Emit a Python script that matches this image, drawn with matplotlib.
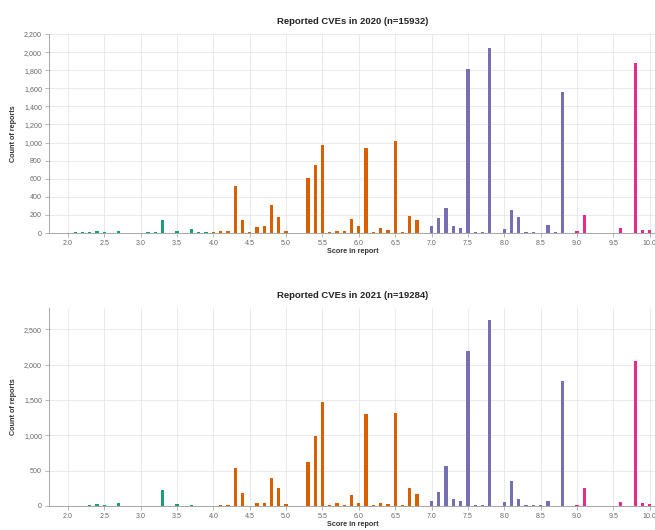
import matplotlib
matplotlib.use("Agg")
import matplotlib.pyplot as plt
from matplotlib.ticker import FuncFormatter

plt.rcParams['font.family'] = ['Liberation Sans', 'DejaVu Sans']

scores = [1.8, 1.9, 2.0, 2.1, 2.2, 2.3, 2.4, 2.5, 2.6, 2.7, 2.8, 2.9,
          3.0, 3.1, 3.2, 3.3, 3.4, 3.5, 3.6, 3.7, 3.8, 3.9,
          4.0, 4.1, 4.2, 4.3, 4.4, 4.5, 4.6, 4.7, 4.8, 4.9,
          5.0, 5.1, 5.2, 5.3, 5.4, 5.5, 5.6, 5.7, 5.8, 5.9,
          6.0, 6.1, 6.2, 6.3, 6.4, 6.5, 6.6, 6.7, 6.8, 6.9,
          7.0, 7.1, 7.2, 7.3, 7.4, 7.5, 7.6, 7.7, 7.8, 7.9,
          8.0, 8.1, 8.2, 8.3, 8.4, 8.5, 8.6, 8.7, 8.8, 8.9,
          9.0, 9.1, 9.2, 9.3, 9.4, 9.5, 9.6, 9.7, 9.8, 9.9, 10.0]

counts_2020 = [0, 2, 3, 6, 8, 10, 22, 8, 5, 25, 3, 3,
               2, 8, 6, 145, 3, 22, 5, 40, 10, 8,
               6, 20, 20, 515, 148, 8, 63, 80, 315, 175,
               22, 3, 3, 605, 755, 972, 15, 18, 18, 158,
               72, 945, 8, 58, 28, 1018, 8, 192, 145, 2,
               72, 168, 280, 72, 52, 1815, 15, 15, 2045, 2,
               40, 254, 173, 12, 10, 3, 90, 8, 1555, 2,
               22, 195, 3, 3, 2, 3, 52, 2, 1875, 28, 28]

counts_2021 = [0, 2, 3, 3, 5, 8, 23, 10, 5, 37, 3, 3,
               2, 5, 5, 233, 3, 23, 5, 14, 6, 5,
               5, 15, 15, 541, 180, 5, 47, 37, 401, 261,
               23, 5, 5, 621, 994, 1475, 10, 45, 10, 159,
               47, 1298, 10, 47, 33, 1312, 10, 261, 168, 3,
               75, 200, 560, 98, 70, 2185, 10, 10, 2628, 3,
               58, 360, 93, 10, 10, 12, 65, 3, 1774, 3,
               19, 257, 3, 3, 2, 3, 60, 2, 2045, 37, 33]

titles = ["Reported CVEs in 2020 (n=15932)", "Reported CVEs in 2021 (n=19284)"]
x_ticks = [2.0, 2.5, 3.0, 3.5, 4.0, 4.5, 5.0, 5.5, 6.0, 6.5, 7.0, 7.5, 8.0, 8.5, 9.0, 9.5, 10.0]
y_ticks_2020 = [0, 200, 400, 600, 800, 1000, 1200, 1400, 1600, 1800, 2000, 2200]
y_ticks_2021 = [0, 500, 1000, 1500, 2000, 2500]

sev_colors = {"low": "#1b9e77", "medium": "#d95f02", "high": "#7570b3", "critical": "#e7298a"}


def color_for(s):
    if s < 4.0:
        return sev_colors["low"]
    if s < 7.0:
        return sev_colors["medium"]
    if s < 9.0:
        return sev_colors["high"]
    return sev_colors["critical"]


W, H = 655, 530
fig = plt.figure(figsize=(W / 100, H / 100), dpi=100)

# pixel boxes: left, top, right, bottom
boxes = [(49, 34, 657, 233), (49, 308, 657, 506)]
ylims = [2200, 2800]
yticks_all = [y_ticks_2020, y_ticks_2021]
data_all = [counts_2020, counts_2021]

for i in range(2):
    l, t, r, b = boxes[i]
    ax = fig.add_axes([l / W, (H - b) / H, (r - l) / W, (b - t) / H])
    cols = [color_for(s) for s in scores]
    ax.bar(scores, data_all[i], width=0.045, color=cols, zorder=3)
    ax.set_xlim(1.74, 10.1)
    ax.set_ylim(0, ylims[i])
    ax.set_xticks(x_ticks)
    ax.set_xticklabels([f"{v:.1f}" for v in x_ticks])
    ax.set_yticks(yticks_all[i])
    ax.yaxis.set_major_formatter(FuncFormatter(lambda v, p: f"{int(v):,}"))
    ax.grid(True, color="#e6e6e6", linewidth=0.6, zorder=0)
    ax.set_axisbelow(True)
    for side in ["top", "right"]:
        ax.spines[side].set_visible(False)
    for side in ["left", "bottom"]:
        ax.spines[side].set_color("#999999")
        ax.spines[side].set_linewidth(0.6)
    ax.tick_params(axis="both", colors="#999999", labelcolor="#666666",
                   labelsize=5.1, length=3, width=0.5, pad=2)
    ax.set_title(titles[i], fontsize=6.8, fontweight="bold", color="#222222", pad=7)
    ax.set_xlabel("Score in report", fontsize=5.2, fontweight="bold", color="#333333")
    ax.set_ylabel("Count of reports", fontsize=5.2, fontweight="bold", color="#333333")
    ax.xaxis.set_label_coords(0.5, -0.075)
    ax.yaxis.set_label_coords(-0.053, 0.5)

fig.savefig("out.png", dpi=100, facecolor="white")
